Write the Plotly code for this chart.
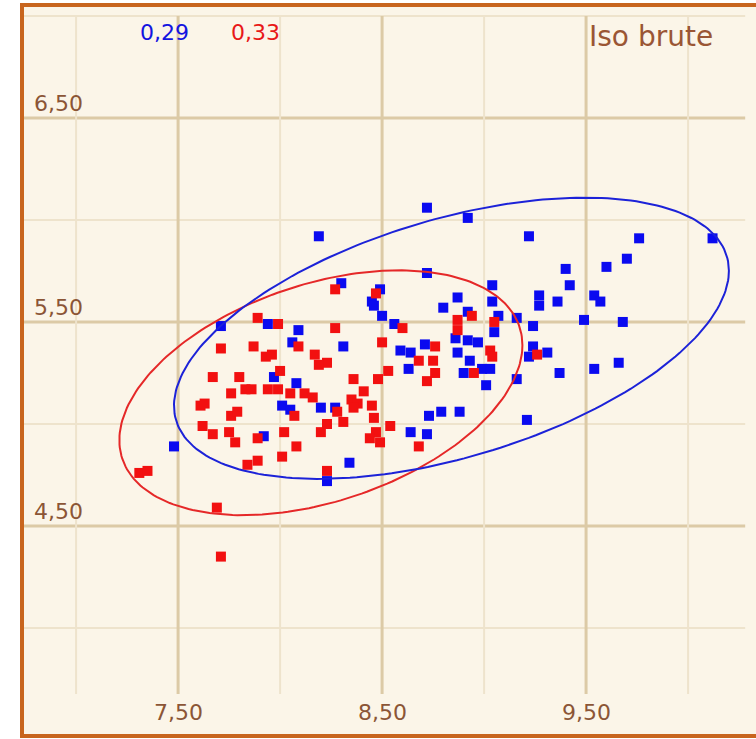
import numpy as np
import plotly.graph_objects as go

# ---------------- data ----------------
blue_x = [8.19, 8.72, 8.92, 9.22, 9.76, 10.12, 9.70, 9.60, 9.40, 9.42,
          9.27, 9.27, 9.36, 9.54, 9.57, 9.16, 9.24, 9.49, 9.68, 9.24,
          9.22, 9.31, 9.37, 9.54, 9.66, 9.16, 9.21, 8.72, 9.04, 8.30,
          8.49, 8.45, 8.46, 8.50, 8.56, 8.87, 8.80, 8.92, 9.04, 9.07,
          9.05, 8.86, 8.92, 8.97, 8.87, 8.93, 8.90, 8.99, 9.03, 9.01,
          8.31, 8.59, 8.64, 8.71, 8.63, 8.20, 8.27, 8.73, 8.79, 8.88,
          8.64, 8.72, 8.34, 8.23, 7.71, 7.94, 8.09, 8.06, 7.97, 8.08,
          8.01, 8.05, 7.92, 7.48]
blue_y = [5.92, 6.06, 6.01, 5.92, 5.91, 5.91, 5.81, 5.77, 5.76, 5.68,
          5.63, 5.58, 5.60, 5.63, 5.60, 5.52, 5.48, 5.51, 5.50, 5.38,
          5.33, 5.35, 5.25, 5.27, 5.30, 5.22, 5.02, 5.74, 5.68, 5.69,
          5.66, 5.60, 5.58, 5.53, 5.49, 5.62, 5.57, 5.55, 5.60, 5.53,
          5.45, 5.42, 5.41, 5.40, 5.35, 5.31, 5.25, 5.27, 5.27, 5.19,
          5.38, 5.36, 5.35, 5.39, 5.27, 5.08, 5.08, 5.04, 5.06, 5.06,
          4.96, 4.95, 4.81, 4.72, 5.48, 5.49, 5.46, 5.40, 5.23, 5.20,
          5.09, 5.07, 4.94, 4.89]

red_x = [8.27, 8.47, 7.89, 7.99, 8.60, 8.27, 8.87, 8.87, 8.94, 9.05,
         8.50, 8.76, 9.03, 9.04, 9.26, 8.68, 8.75, 8.76, 8.95, 8.72,
         8.53, 8.48, 8.36, 8.41, 8.35, 8.38, 8.45, 8.46, 8.23, 8.19,
         8.17, 7.71, 7.87, 8.09, 7.93, 7.96, 8.00, 7.67, 7.80, 7.83,
         7.86, 7.94, 7.99, 7.76, 8.05, 8.12, 8.16, 7.61, 7.63, 7.76,
         7.79, 8.07, 7.62, 7.67, 7.75, 7.78, 7.89, 8.02, 8.08, 8.20,
         8.23, 7.84, 7.89, 8.01, 7.31, 7.35, 7.69, 7.71, 8.23, 8.28,
         8.36, 8.31, 8.54, 8.47, 8.44, 8.49, 8.68]
red_y = [5.66, 5.64, 5.52, 5.49, 5.47, 5.47, 5.51, 5.46, 5.53, 5.50,
         5.40, 5.38, 5.36, 5.33, 5.34, 5.31, 5.31, 5.25, 5.25, 5.21,
         5.26, 5.22, 5.22, 5.16, 5.12, 5.10, 5.09, 5.03, 5.30, 5.29,
         5.34, 5.37, 5.38, 5.38, 5.33, 5.34, 5.26, 5.23, 5.23, 5.17,
         5.17, 5.17, 5.17, 5.15, 5.15, 5.15, 5.13, 5.09, 5.10, 5.04,
         5.06, 5.04, 4.99, 4.95, 4.96, 4.91, 4.93, 4.96, 4.89, 4.96,
         5.00, 4.80, 4.82, 4.84, 4.76, 4.77, 4.59, 4.35, 4.77, 5.06,
         5.08, 5.01, 4.99, 4.96, 4.93, 4.91, 4.89]

# ellipse parameters: centre and shape matrix (sxx, syy, sxy)
blue_ell = dict(cx=8.84, cy=5.42, sxx=1.850, syy=0.475, sxy=0.45)
red_ell = dict(cx=8.20, cy=5.153, sxx=0.976, syy=0.360, sxy=0.23)

x_ticks = [7.0, 7.5, 8.0, 8.5, 9.0, 9.5, 10.0]
y_ticks = [4.0, 4.5, 5.0, 5.5, 6.0, 6.5, 7.0]
x_label_vals = [7.5, 8.5, 9.5]
x_label_text = ["7,50", "8,50", "9,50"]
y_label_vals = [6.5, 5.5, 4.5]
y_label_text = ["6,50", "5,50", "4,50"]
stat_blue = "0,29"
stat_red = "0,33"
title_text = "Iso brute"

# ---------------- style ----------------
W, H = 756, 739
BLUE = "#0A0AF0"
RED = "#F21010"
BLUE_LINE = "#1C22D8"
RED_LINE = "#E52828"
BG = "#FBF5E8"
BORDER = "#C8651E"
GRID_MAJOR = "#DCCAA6"
GRID_MINOR = "#EEE3CC"
TXT = "#8B5536"
FONT = "DejaVu Sans"

XR = [6.627, 10.333]
YR = [3.456, 7.078]


def ellipse(p, n=240):
    t = np.linspace(0, 2 * np.pi, n)
    S = np.array([[p["sxx"], p["sxy"]], [p["sxy"], p["syy"]]])
    L = np.linalg.cholesky(S)
    pts = L @ np.vstack([np.cos(t), np.sin(t)])
    return p["cx"] + pts[0], p["cy"] + pts[1]


fig = go.Figure()

fig.add_trace(go.Scatter(x=blue_x, y=blue_y, mode="markers",
                         marker=dict(symbol="square", size=10, color=BLUE,
                                     line=dict(width=0)),
                         hoverinfo="skip", showlegend=False))
fig.add_trace(go.Scatter(x=red_x, y=red_y, mode="markers",
                         marker=dict(symbol="square", size=10, color=RED,
                                     line=dict(width=0)),
                         hoverinfo="skip", showlegend=False))

ex, ey = ellipse(red_ell)
fig.add_trace(go.Scatter(x=ex, y=ey, mode="lines",
                         line=dict(color=RED_LINE, width=2),
                         hoverinfo="skip", showlegend=False))
ex, ey = ellipse(blue_ell)
fig.add_trace(go.Scatter(x=ex, y=ey, mode="lines",
                         line=dict(color=BLUE_LINE, width=2),
                         hoverinfo="skip", showlegend=False))

shapes = []
# cream panel
shapes.append(dict(type="rect", xref="paper", yref="paper",
                   x0=22 / W, x1=1.05, y0=3 / H, y1=1 - 5 / H,
                   fillcolor=BG, line=dict(width=0), layer="below"))
grid_x_end = 10.28
grid_y_bottom = 3.676
for xv in x_ticks:
    major = xv in x_label_vals
    shapes.append(dict(type="line", xref="x", yref="y",
                       x0=xv, x1=xv, y0=max(y_ticks), y1=grid_y_bottom,
                       line=dict(color=GRID_MAJOR if major else GRID_MINOR,
                                 width=3 if major else 2),
                       layer="below"))
for yv in y_ticks:
    major = yv in y_label_vals
    shapes.append(dict(type="line", xref="paper", yref="y",
                       x0=22 / W, x1=(grid_x_end - XR[0]) / (XR[1] - XR[0]),
                       y0=yv, y1=yv,
                       line=dict(color=GRID_MAJOR if major else GRID_MINOR,
                                 width=3 if major else 2),
                       layer="below"))
# orange frame
shapes.append(dict(type="rect", xref="paper", yref="paper",
                   x0=22 / W, x1=1.05, y0=3 / H, y1=1 - 5 / H,
                   fillcolor="rgba(0,0,0,0)",
                   line=dict(color=BORDER, width=4), layer="above"))

annotations = []
for v, t in zip(x_label_vals, x_label_text):
    annotations.append(dict(x=v, y=1 - 712 / H, xref="x", yref="paper",
                            text=t, showarrow=False, xanchor="center",
                            yanchor="middle",
                            font=dict(family=FONT, size=22, color=TXT)))
for v, t in zip(y_label_vals, y_label_text):
    annotations.append(dict(x=32 / W, y=v, xref="paper", yref="y",
                            text=t, showarrow=False, xanchor="left",
                            yanchor="bottom", yshift=0,
                            font=dict(family=FONT, size=22, color=TXT)))
annotations.append(dict(x=164 / W, y=1 - 32 / H, xref="paper", yref="paper",
                        text=stat_blue, showarrow=False, xanchor="center",
                        yanchor="middle",
                        font=dict(family=FONT, size=22, color="#1414E0")))
annotations.append(dict(x=255 / W, y=1 - 32 / H, xref="paper", yref="paper",
                        text=stat_red, showarrow=False, xanchor="center",
                        yanchor="middle",
                        font=dict(family=FONT, size=22, color="#E81818")))
annotations.append(dict(x=651 / W, y=1 - 36 / H, xref="paper", yref="paper",
                        text=title_text, showarrow=False, xanchor="center",
                        yanchor="middle",
                        font=dict(family=FONT, size=28, color="#9A5634")))

fig.update_layout(
    width=W, height=H,
    margin=dict(l=0, r=0, t=0, b=0),
    paper_bgcolor="white", plot_bgcolor="rgba(0,0,0,0)",
    xaxis=dict(range=XR, showgrid=False, zeroline=False, showticklabels=False,
               ticks="", showline=False, fixedrange=True),
    yaxis=dict(range=YR, showgrid=False, zeroline=False, showticklabels=False,
               ticks="", showline=False, fixedrange=True),
    shapes=shapes, annotations=annotations,
)

fig.write_html(
    "out.html",
    config={"displayModeBar": False},
    post_script="document.body.style.margin='0px';"
                "document.body.style.overflow='hidden';",
)
